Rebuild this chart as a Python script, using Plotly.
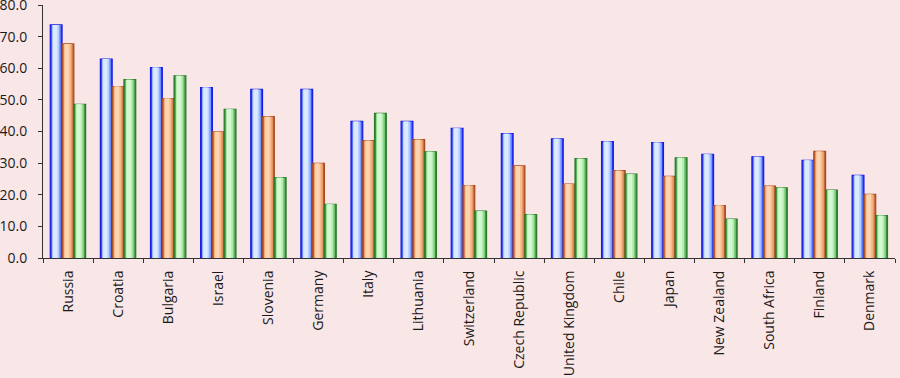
import plotly.graph_objects as go

countries = ["Russia", "Croatia", "Bulgaria", "Israel", "Slovenia", "Germany", "Italy",
             "Lithuania", "Switzerland", "Czech Republic", "United Kingdom", "Chile", "Japan",
             "New Zealand", "South Africa", "Finland", "Denmark"]
series_blue = [73.7, 62.9, 60.2, 53.9, 53.3, 53.3, 43.2, 43.2, 41.0, 39.3, 37.7, 36.8, 36.5, 32.8, 32.0, 30.9, 26.1]
series_orange = [67.7, 54.2, 50.4, 39.9, 44.7, 29.9, 37.1, 37.4, 22.9, 29.1, 23.4, 27.6, 25.8, 16.6, 22.7, 33.7, 20.1]
series_green = [48.6, 56.4, 57.6, 47.0, 25.4, 17.0, 45.7, 33.6, 14.8, 13.7, 31.4, 26.5, 31.7, 12.3, 22.2, 21.5, 13.4]
y_ticks = [0, 10, 20, 30, 40, 50, 60, 70, 80]
y_tick_labels = ["0.0", "10.0", "20.0", "30.0", "40.0", "50.0", "60.0", "70.0", "80.0"]

# (values, edge color, layer colors from outer to inner)
series = [
    (series_blue, "#1a1ae6", ["#2a3cf0", "#7c9cff", "#b8d0ff", "#dceaff"]),
    (series_orange, "#a84a20", ["#c06030", "#e89a68", "#f8bc8c", "#fcd4b0"]),
    (series_green, "#2a7a2a", ["#3a8f3a", "#7ccc7c", "#b4ecb0", "#d4f8d0"]),
]

w = 0.235
group_left = -0.355
fig = go.Figure()
for i, (vals, edge, layers) in enumerate(series):
    left = group_left + i * w
    insets = [0.0, 0.028, 0.05, 0.075]
    shifts = [0.0, 0.0, -0.01, -0.02]
    for j, (col, ins) in enumerate(zip(layers, insets)):
        lw = 1.2 if j == 0 else 0
        fig.add_trace(go.Bar(
            x=countries, y=vals,
            offset=left + ins + shifts[j], width=w - 2 * ins,
            marker=dict(color=col, line=dict(color=edge, width=lw)),
            showlegend=False, hoverinfo="skip" if j else None,
        ))

fig.update_layout(
    width=900, height=378,
    barmode="overlay",
    paper_bgcolor="#f9e6e7", plot_bgcolor="#f9e6e7",
    margin=dict(l=43, r=5, t=5, b=120),
    font=dict(family="Open Sans, sans-serif", size=14, color="#1a1a1a"),
    showlegend=False,
)
fig.update_xaxes(
    showline=True, linecolor="#333333", linewidth=1,
    ticks="outside", tickson="boundaries", ticklen=4, tickcolor="#333333",
    tickangle=-90, showgrid=False, range=[-0.5, 16.5],
    automargin=False, ticklabelstandoff=6,
)
fig.update_yaxes(
    range=[0, 80], tickvals=y_ticks, ticktext=y_tick_labels,
    showline=True, linecolor="#333333", linewidth=1,
    ticks="outside", ticklen=4, tickcolor="#333333",
    showgrid=False, zeroline=False, ticklabelstandoff=8,
    automargin=False, ticklabeloverflow="allow",
)
fig.write_html(
    "out.html",
    config={"displayModeBar": False},
    post_script="document.body.style.margin='0';document.body.style.padding='0';"
                "document.body.style.overflow='hidden';",
)
